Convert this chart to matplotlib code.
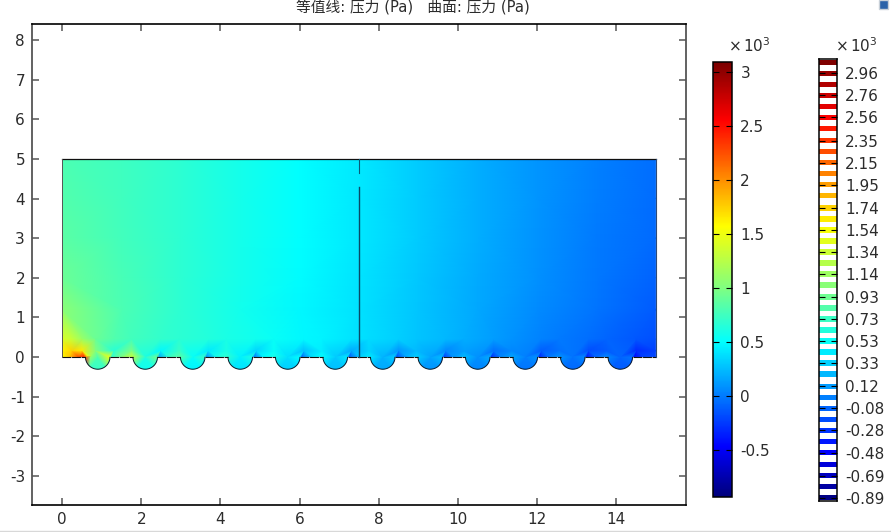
import numpy as np
import matplotlib
matplotlib.use("Agg")
import matplotlib.pyplot as plt
from matplotlib.colors import LinearSegmentedColormap, Normalize
from matplotlib.cm import ScalarMappable
from matplotlib.patches import Polygon, Rectangle
from matplotlib.lines import Line2D
from matplotlib.tri import Triangulation

plt.rcParams['font.family'] = ['DejaVu Sans']
plt.rcParams['axes.unicode_minus'] = False

TITLE = "等值线: 压力 (Pa)   曲面: 压力 (Pa)"
X_TICKS = [0, 2, 4, 6, 8, 10, 12, 14]
Y_TICKS = [-3, -2, -1, 0, 1, 2, 3, 4, 5, 6, 7, 8]
BAR_TICKS = [-0.5, 0, 0.5, 1, 1.5, 2, 2.5, 3]
BAR_LABELS = ["-0.5", "0", "0.5", "1", "1.5", "2", "2.5", "3"]
VMIN, VMAX = -0.935, 3.09
CMAP_VALUES = [-0.935, -0.47, 0.5, 1.0, 1.57, 2.55, 3.09]
CMAP_COLORS = ["#00007a", "#0000ff", "#00ffff", "#80ff80", "#ffff00", "#ff0000", "#7a0000"]

LEVELS = [-0.89, -0.79, -0.69, -0.59, -0.48, -0.38, -0.28, -0.18, -0.08, 0.02,
          0.12, 0.23, 0.33, 0.43, 0.53, 0.63, 0.73, 0.83, 0.93, 1.04,
          1.14, 1.24, 1.34, 1.44, 1.54, 1.64, 1.74, 1.85, 1.95, 2.05,
          2.15, 2.25, 2.35, 2.46, 2.56, 2.66, 2.76, 2.86, 2.96, 3.06]
LEVEL_TICKS = LEVELS[0::2]
LEVEL_LABELS = ["-0.89", "-0.69", "-0.48", "-0.28", "-0.08", "0.12", "0.33", "0.53", "0.73", "0.93",
                "1.14", "1.34", "1.54", "1.74", "1.95", "2.15", "2.35", "2.56", "2.76", "2.96"]

CENTERS = [0.9, 2.1, 3.3, 4.5, 5.7, 6.9, 8.1, 9.3, 10.5, 11.7, 12.9, 14.1]
RADIUS = 0.31

ROW_Y = [5, 4, 3, 2, 1.2]
ROW_X = [0, 1.5, 3, 4.5, 6, 7.5, 9, 10.5, 12, 13.5, 15]
ROW_5 = [0.80, 0.74, 0.67, 0.58, 0.50, 0.42, 0.30, 0.19, 0.10, 0.02, -0.05]
ROW_4 = [0.82, 0.75, 0.67, 0.58, 0.50, 0.41, 0.30, 0.19, 0.10, 0.01, -0.06]
ROW_3 = [0.85, 0.76, 0.67, 0.58, 0.50, 0.41, 0.30, 0.19, 0.09, 0.00, -0.07]
ROW_2 = [0.92, 0.78, 0.67, 0.58, 0.49, 0.40, 0.29, 0.18, 0.08, -0.01, -0.09]
ROW_1 = [1.05, 0.80, 0.67, 0.57, 0.48, 0.39, 0.28, 0.17, 0.06, -0.03, -0.12]

# rows above the wall share their x nodes
NEAR_X = [0, 0.25, 0.5, 0.85, 1.3, 1.75, 2.5, 2.95, 3.7, 4.15, 4.9, 5.35, 6.1, 6.55, 7.3, 7.75,
          8.5, 8.95, 9.7, 10.15, 10.9, 11.35, 12.1, 12.55, 13.3, 13.75, 14.5, 15]
MID_Y = 0.45
MID_V = [1.40, 1.32, 1.12, 0.92, 0.82, 0.76, 0.70, 0.67, 0.63, 0.60, 0.56, 0.53, 0.48, 0.46, 0.40, 0.37,
         0.32, 0.28, 0.23, 0.19, 0.13, 0.09, 0.03, 0.00, -0.05, -0.08, -0.14, -0.17]
NEAR_Y = 0.16
NEAR_V = [1.60, 1.75, 1.65, 1.00, 0.66, 0.98, 0.48, 0.72, 0.42, 0.60, 0.34, 0.52, 0.26, 0.44, 0.18, 0.34,
          0.10, 0.24, 0.04, 0.14, -0.04, 0.04, -0.11, -0.04, -0.18, -0.12, -0.30, -0.22]

# on the wall line: for each circle left rim, centre, inner right rim, dark spot, mid gap
WALL_Y = 0.0
WALL_L = [2.45, 1.30, 0.85, 0.68, 0.58, 0.50, 0.42, 0.32, 0.25, 0.17, 0.10, 0.05]
WALL_C = [0.80, 0.62, 0.52, 0.45, 0.38, 0.30, 0.22, 0.15, 0.08, 0.02, -0.03, -0.08]
WALL_R = [1.50, 0.95, 0.72, 0.60, 0.50, 0.42, 0.32, 0.25, 0.18, 0.10, 0.05, -0.03]
WALL_D = [0.70, 0.15, 0.05, -0.05, -0.10, -0.15, -0.20, -0.25, -0.30, -0.35, -0.40, -0.45]
WALL_M = [1.00, 0.72, 0.60, 0.50, 0.40, 0.30, 0.20, 0.12, 0.05, 0.00, -0.05, -0.20]
CORNER_X = [0, 0.2, 0.42, 15]
CORNER_V = [1.55, 1.80, 2.30, -0.20]
HOT_X = [0.62, 0.72]
HOT_Y = [0.03, 0.03]
HOT_V = [1.50, 1.15]

# inside the circles near their lowest point
ARC_Y = -0.28
ARC_V = [0.72, 0.56, 0.47, 0.40, 0.33, 0.26, 0.18, 0.10, 0.04, -0.02, -0.07, -0.12]

# ---- assemble points ----
xs, ys, vs = [], [], []
for y, row in zip(ROW_Y, [ROW_5, ROW_4, ROW_3, ROW_2, ROW_1]):
    xs += ROW_X; ys += [y] * len(ROW_X); vs += row
xs += NEAR_X; ys += [MID_Y] * len(NEAR_X); vs += MID_V
xs += NEAR_X; ys += [NEAR_Y] * len(NEAR_X); vs += NEAR_V
xs += CORNER_X; ys += [WALL_Y] * len(CORNER_X); vs += CORNER_V
xs += HOT_X; ys += HOT_Y; vs += HOT_V
for i, c in enumerate(CENTERS):
    xs += [c - 0.33, c, c + 0.29, c + 0.35, c + 0.6]
    ys += [WALL_Y] * 5
    vs += [WALL_L[i], WALL_C[i], WALL_R[i], WALL_D[i], WALL_M[i]]
    xs += [c - 0.2, c, c + 0.2]
    ys += [ARC_Y, -0.33, ARC_Y]
    vs += [ARC_V[i], ARC_V[i], ARC_V[i]]

W, H = 891, 532
fig = plt.figure(figsize=(W / 100, H / 100), dpi=100)


def px_axes(left, top, right, bottom):
    return fig.add_axes([left / W, 1 - bottom / H, (right - left) / W, (bottom - top) / H])


cmap = LinearSegmentedColormap.from_list(
    "pressure", [((v - VMIN) / (VMAX - VMIN), c) for v, c in zip(CMAP_VALUES, CMAP_COLORS)], N=512)
norm = Normalize(VMIN, VMAX)

TEXT = "#2b2b2b"
ax = px_axes(32, 24, 686, 505)
ax.set_xlim(-0.76, 15.76)
ax.set_ylim(-3.74, 8.41)

# outline of the domain
outline = [(0, 0), (0, 5), (15, 5), (15, 0)]
for c in reversed(CENTERS):
    t = np.linspace(0, np.pi, 30)
    outline += [(c + RADIUS * np.cos(a), -RADIUS * np.sin(a)) for a in t]
domain = Polygon(outline, closed=True, transform=ax.transData, facecolor="none", edgecolor="none")
ax.add_patch(domain)

tri = Triangulation(np.array(xs, float), np.array(ys, float))
mesh = ax.tripcolor(tri, np.array(vs, float), shading="gouraud", cmap=cmap, norm=norm)
mesh.set_clip_path(domain)

# boundaries
for c in CENTERS:
    t = np.linspace(0, np.pi, 40)
    ax.plot(c + RADIUS * np.cos(t), -RADIUS * np.sin(t), color="#0a1a28", lw=0.7, solid_capstyle="butt")
edges = [0] + [v for c in CENTERS for v in (c - RADIUS, c + RADIUS)] + [15]
for a, b in zip(edges[0::2], edges[1::2]):
    ax.plot([a, b], [0, 0], color="#101010", lw=0.8, ls=(0, (8, 0.6)))
ax.plot([0, 15], [5, 5], color="#101010", lw=0.9)
ax.plot([0, 0], [0, 5], color="#555555", lw=0.7)
ax.plot([15, 15], [0, 5], color="#2c4a78", lw=0.8)
ax.plot([7.5, 7.5], [0, 4.3], color="#0a4a66", lw=1.0)
ax.plot([7.5, 7.5], [4.65, 5], color="#0a5a78", lw=0.8)

ax.set_xticks(X_TICKS)
ax.set_yticks(Y_TICKS)
ax.tick_params(axis="both", direction="in", length=5, width=1.4, color="#7a7a7a",
               labelsize=11, labelcolor=TEXT, top=True, right=True, pad=5)
for side, col, lw in [("left", "#555555", 1.3), ("right", "#555555", 1.3),
                      ("top", "#000000", 1.2), ("bottom", "#000000", 1.2)]:
    ax.spines[side].set_color(col)
    ax.spines[side].set_linewidth(lw)

fig.text(413 / W, 1 - 7.5 / H, TITLE, ha="center", va="center", fontsize=10.6, color=TEXT,
         family=["DejaVu Sans", "Noto Sans CJK SC"])

# continuous colour bar
cax = px_axes(713, 62, 732, 497)
cb = fig.colorbar(ScalarMappable(norm=norm, cmap=cmap), cax=cax)
cb.set_ticks(BAR_TICKS, labels=BAR_LABELS)
cb.outline.set_edgecolor("black")
cb.outline.set_linewidth(1.1)
cax.tick_params(axis="y", direction="in", length=4, width=0.8, color="black", left=True, right=True,
                labelsize=11, labelcolor=TEXT, pad=6)

# contour level legend
lax = px_axes(819, 59, 837, 501)
lax.barh(LEVELS, [1] * len(LEVELS), left=0, height=0.05, color=[cmap(norm(v)) for v in LEVELS])
lax.set_xlim(0, 1)
lax.set_ylim(-0.92, 3.09)
lax.set_xticks([])
lax.yaxis.tick_right()
lax.set_yticks(LEVEL_TICKS, labels=LEVEL_LABELS)
lax.tick_params(axis="y", direction="in", length=4, width=0.8, color="black", left=True, right=True,
                labelsize=11, labelcolor=TEXT, pad=6)
for s in lax.spines.values():
    s.set_color("black")
    s.set_linewidth(1.1)

for x0 in (749.5, 856):
    fig.text(x0 / W, 1 - 46 / H, r"$\times\,10^3$", ha="center", va="center", fontsize=11, color=TEXT)

# screenshot remnants at the edges
fig.add_artist(Line2D([0, 1], [1 - 530.5 / H] * 2, color="#d8d8d8", lw=1))
fig.add_artist(Rectangle((879 / W, 1 - 9 / H), 9 / W, 9 / H, transform=fig.transFigure,
                         facecolor="#2a62a8", edgecolor="#c8d0d8", lw=1))

fig.savefig("out.png", dpi=100)
